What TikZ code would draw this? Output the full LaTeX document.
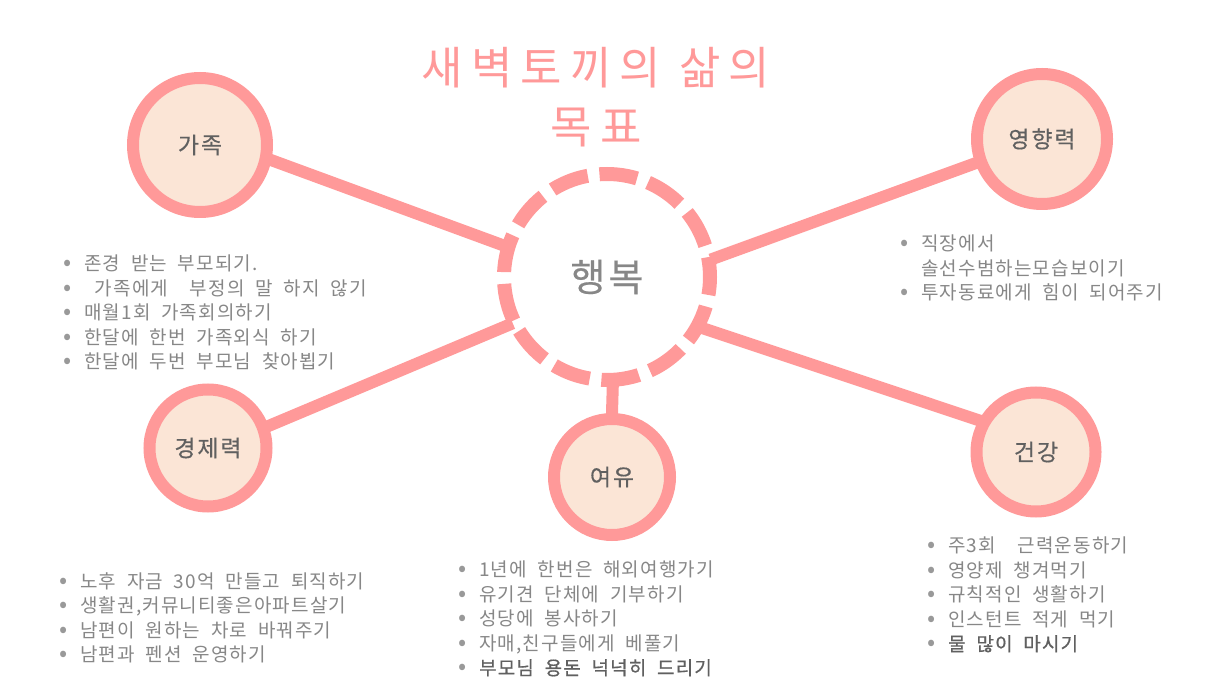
\documentclass[tikz,border=0pt]{standalone}
\usepackage{fontspec}
\usepackage{tikz}
\usetikzlibrary{backgrounds,positioning}
\setmainfont{Noto Sans CJK KR}
\newfontfamily\titlefont[LetterSpace=18]{Noto Sans CJK KR}
\newfontfamily\labelfont[LetterSpace=8,FakeBold=0.4]{Noto Sans CJK KR}
\newfontfamily\listfont[WordSpace=2,LetterSpace=6]{Noto Sans CJK KR}
\newfontfamily\boldlistfont[WordSpace=2,LetterSpace=6,FakeBold=0.6]{Noto Sans CJK KR}
\definecolor{ringpink}{HTML}{FF9999}
\definecolor{peach}{HTML}{FBE5D6}
\definecolor{labelgray}{HTML}{606060}
\definecolor{textgray}{HTML}{878787}
\definecolor{dotgray}{HTML}{999999}
\newcommand{\bul}{\makebox[21pt][l]{\textcolor{dotgray}{\fontsize{24}{24}\selectfont•}}}
\newcommand{\gap}{\makebox[21pt]{}}

\begin{document}
\begin{tikzpicture}[x=1pt,y=-1pt]
	\tikzstyle{Goal}	= [circle, draw=ringpink, line width=12pt, fill=peach, inner sep=0pt, text=labelgray, font=\labelfont\fontsize{23}{26}\selectfont]
	\tikzstyle{Center}	= [circle, draw=ringpink, line width=14pt, fill=white, minimum size=206pt, dash pattern=on 38pt off 11.78pt, dash phase=18pt, text=textgray, font=\labelfont\fontsize{38}{40}\selectfont]
	\tikzstyle{Link}	= [line width=12pt, ringpink, shorten <=-5pt, shorten >=-5pt]
	\tikzstyle{List}	= [anchor=north west, align=left, inner sep=0pt, text=textgray, font=\listfont\fontsize{19}{24.5}\selectfont]

	\useasboundingbox (0,0) rectangle (1216,684);

	\node (title) at (596,97) [align=center, text=ringpink, font=\titlefont\fontsize{45}{59}\selectfont] {새벽토끼의 삶의\\목표};
	\node (happy) at (607,277) [Center] {행복};
	\foreach \name/\x/\y/\d/\word in {family/200/145/134/가족, influence/1042/139/130/영향력, economy/208/448/117/경제력, leisure/612/477/116/여유, health/1036/452/119/건강}
		\node (\name) at (\x,\y) [Goal, minimum size=\d] {\word};

	\begin{pgfonlayer}{background}
		\fill[white] (0,0) rectangle (1216,684);
		\foreach \a/\b in {family.-12/happy.163, influence.200/happy.10, economy.20/happy.206, health.151/happy.-28}
			\draw (\a) -- (\b) [Link];
		\draw (happy.-87) -- (leisure.north) [Link];
	\end{pgfonlayer}

	% goal lists
	\node (familylist) at (63,255) [List] {\bul 존경 받는 부모되기.\\ \bul\ 가족에게\ \ 부정의 말 하지 않기\\ \bul 매월1회 가족회의하기\\ \bul 한달에 한번 가족외식 하기\\ \bul 한달에 두번 부모님 찾아뵙기};
	\node (influencelist) at (900,235) [List] {\bul 직장에서\\ \gap 솔선수범하는모습보이기\\ \bul 투자동료에게 힘이 되어주기};
	\node (economylist) at (59,572) [List] {\bul 노후 자금 30억 만들고 퇴직하기\\ \bul 생활권,커뮤니티좋은아파트살기\\ \bul 남편이 원하는 차로 바꿔주기\\ \bul 남편과 펜션 운영하기};
	\node (leisurelist) at (458,561) [List] {\bul 1년에 한번은 해외여행가기\\ \bul 유기견 단체에 기부하기\\ \bul 성당에 봉사하기\\ \bul 자매,친구들에게 베풀기\\ \bul{\boldlistfont\color{labelgray}부모님 용돈 넉넉히 드리기}};
	\node (healthlist) at (927,537) [List] {\bul 주3회\ \ 근력운동하기\\ \bul 영양제 챙겨먹기\\ \bul 규칙적인 생활하기\\ \bul 인스턴트 적게 먹기\\ \bul{\boldlistfont\color{labelgray}물 많이 마시기}};
\end{tikzpicture}
\end{document}
